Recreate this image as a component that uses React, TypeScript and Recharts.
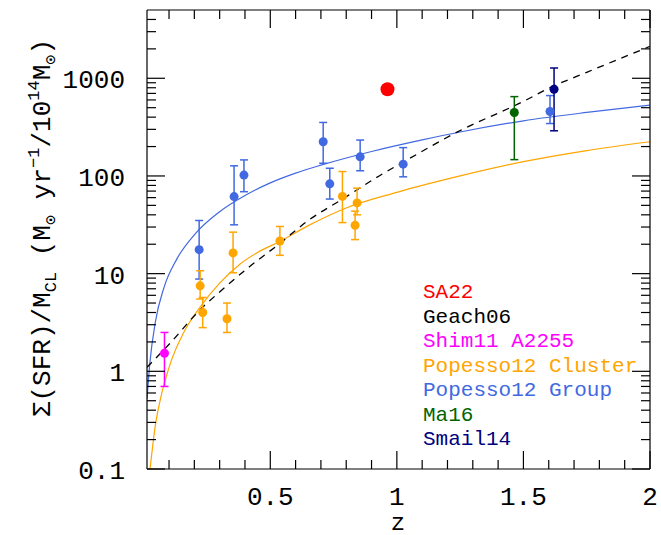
import React from 'react';
import { ComposedChart, XAxis, YAxis, Line, Scatter, ErrorBar } from 'recharts';

// fitted curves
const groupFitZ = [0.013, 0.024, 0.046, 0.08, 0.13, 0.2, 0.3, 0.4, 0.5, 0.6, 0.7, 0.9, 1.1, 1.25, 1.5, 1.75, 2.0];
const groupFitV = [0.52, 1.2, 3.2, 7.2, 14, 25, 43, 63, 85, 107, 129, 178, 234, 282, 367, 447, 530];

const clusterFitZ = [0.025, 0.046, 0.066, 0.105, 0.158, 0.224, 0.3, 0.38, 0.45, 0.54, 0.65, 0.8, 1.0, 1.25, 1.5, 1.75, 2.0];
const clusterFitV = [0.1, 0.28, 0.52, 1.2, 2.5, 4.6, 8.0, 12.5, 16.5, 21.5, 31, 47, 68, 100, 140, 182, 224];

const geachZ = [0.013, 0.105, 0.224, 0.3, 0.42, 0.54, 0.65, 0.79, 0.93, 1.05, 1.24, 1.5, 1.6, 1.75, 2.0];
const geachV = [1.1, 1.95, 4.3, 6.5, 11.9, 20.6, 35, 59, 100, 151, 283, 580, 790, 1150, 2120];

// measurements: z, value, lower, upper
const groupZ = [0.219, 0.357, 0.396, 0.709, 0.735, 0.855, 1.025, 1.605];
const groupV = [17.6, 61.5, 102, 224, 83, 157, 132, 457];
const groupLo = [8.8, 31.6, 69, 135, 58, 113, 98, 344];
const groupHi = [35, 127, 146, 353, 120, 233, 195, 665];

const clusterZ = [0.223, 0.233, 0.329, 0.353, 0.538, 0.785, 0.843, 0.835];
const clusterV = [7.5, 4.0, 3.45, 16.3, 21.6, 61.7, 53, 31.2];
const clusterLo = [5.5, 2.8, 2.5, 10.2, 15.4, 33.3, 40, 22.3];
const clusterHi = [10.7, 5.7, 5.0, 26.6, 30.4, 111, 75, 43.6];

const shimZ = [0.082];
const shimV = [1.53];
const shimLo = [0.7];
const shimHi = [2.5];

const ma16Z = [1.464];
const ma16V = [446];
const ma16Lo = [147];
const ma16Hi = [649];

const smailZ = [1.621];
const smailV = [773];
const smailLo = [290];
const smailHi = [1274];

const sa22Z = [0.963];
const sa22V = [773];

const xMajorTicks = [0.5, 1, 1.5, 2];
const xMajorLabels = ['0.5', '1', '1.5', '2'];
const xMinorTicks = [0.1, 0.2, 0.3, 0.4, 0.6, 0.7, 0.8, 0.9, 1.1, 1.2, 1.3, 1.4, 1.6, 1.7, 1.8, 1.9];
const yMajorTicks = [0.1, 1, 10, 100, 1000];
const yMajorLabels = ['0.1', '1', '10', '100', '1000'];
const yMinorTicks = [
  0.2, 0.3, 0.4, 0.5, 0.6, 0.7, 0.8, 0.9,
  2, 3, 4, 5, 6, 7, 8, 9,
  20, 30, 40, 50, 60, 70, 80, 90,
  200, 300, 400, 500, 600, 700, 800, 900,
  2000, 3000, 4000,
];

const legendNames = ['SA22', 'Geach06', 'Shim11 A2255', 'Popesso12 Cluster', 'Popesso12 Group', 'Ma16', 'Smail14'];
const legendColors = ['#ff0000', '#000000', '#ff00ff', '#ffa500', '#4169e1', '#006400', '#000080'];

const curve = (zs: number[], vs: number[]) => zs.map((z, i) => ({ z, v: vs[i] }));
const points = (zs: number[], vs: number[], lo: number[], hi: number[]) =>
  zs.map((z, i) => ({ z, v: vs[i], err: [vs[i] - lo[i], hi[i] - vs[i]] }));

const FONT = '"Liberation Mono", "DejaVu Sans Mono", monospace';

// chart layout
const W = 661;
const H = 535;
const LEFT_W = 147;
const BOTTOM_H = 66;
const TOP_H = 10;
const RIGHT_W = 11;
const PLOT_W = W - LEFT_W - RIGHT_W;
const PLOT_H = H - TOP_H - BOTTOM_H;

// inward ticks; the bottom/left renderers also draw the mirrored top/right ticks
const tickFor = (side: string, majors: number[], labels: string[]) => (props: any) => {
  const { x, y, payload } = props;
  const idx = majors.indexOf(payload.value);
  const len = idx >= 0 ? 18 : 9;
  if (side === 'bottom') {
    const top = y - PLOT_H;
    return (
      <g>
        <line x1={x} y1={y} x2={x} y2={y - len} stroke="#000" strokeWidth={1.2} />
        <line x1={x} y1={top} x2={x} y2={top + len} stroke="#000" strokeWidth={1.2} />
        {idx >= 0 && <text x={x} y={y + 36} textAnchor="middle" fontFamily={FONT} fontSize={26} fill="#000">{labels[idx]}</text>}
      </g>
    );
  }
  const right = x + PLOT_W;
  return (
    <g>
      <line x1={x} y1={y} x2={x + len} y2={y} stroke="#000" strokeWidth={1.2} />
      <line x1={right} y1={y} x2={right - len} y2={y} stroke="#000" strokeWidth={1.2} />
      {idx >= 0 && <text x={x - 22} y={y + 10} textAnchor="end" fontFamily={FONT} fontSize={26} fill="#000">{labels[idx]}</text>}
    </g>
  );
};

const dot = (color: string, r: number) => (p: any) => <circle cx={p.cx} cy={p.cy} r={r} fill={color} />;

const xTicks = [...xMinorTicks, ...xMajorTicks].sort((a, b) => a - b);
const yTicks = [...yMinorTicks, ...yMajorTicks].sort((a, b) => a - b);

const errSeries = (data: any[], color: string) => (
  <Scatter data={data} fill={color} isAnimationActive={false} shape={dot(color, 4.5)}>
    <ErrorBar dataKey="err" direction="y" width={4} stroke={color} strokeWidth={1.5} />
  </Scatter>
);

const axisLine = { stroke: '#000', strokeWidth: 1.2 };
const X_DOMAIN = [0.013, 2];
const Y_DOMAIN = [0.1, 5000];

export default function App() {
  return (
    <div style={{ position: 'absolute', left: 0, top: 0, width: W, height: H, background: '#fff' }}>
      <ComposedChart width={W} height={H} margin={{ top: 0, right: 0, bottom: 0, left: 0 }}>
        <XAxis dataKey="z" type="number" domain={X_DOMAIN} allowDataOverflow ticks={xTicks} interval={0}
          height={BOTTOM_H} tickSize={0} tickMargin={0} tickLine={false} axisLine={axisLine}
          tick={tickFor('bottom', xMajorTicks, xMajorLabels)} />
        <YAxis dataKey="v" scale="log" type="number" domain={Y_DOMAIN} allowDataOverflow ticks={yTicks} interval={0}
          width={LEFT_W} tickSize={0} tickMargin={0} tickLine={false} axisLine={axisLine}
          tick={tickFor('left', yMajorTicks, yMajorLabels)} />
        {/* top and right frame lines */}
        <XAxis xAxisId="top" orientation="top" dataKey="z" type="number" domain={X_DOMAIN} allowDataOverflow
          height={TOP_H} tick={false} tickLine={false} axisLine={axisLine} />
        <YAxis yAxisId="right" orientation="right" dataKey="v" scale="log" type="number" domain={Y_DOMAIN} allowDataOverflow
          width={RIGHT_W} tick={false} tickLine={false} axisLine={axisLine} />
        <Line xAxisId="top" yAxisId="right" data={curve(geachZ, geachV)} dataKey="v" stroke="none" dot={false} isAnimationActive={false} />

        <Line data={curve(groupFitZ, groupFitV)} dataKey="v" type="monotone" stroke="#4169e1" strokeWidth={1.2} dot={false} isAnimationActive={false} />
        <Line data={curve(clusterFitZ, clusterFitV)} dataKey="v" type="monotone" stroke="#ffa500" strokeWidth={1.2} dot={false} isAnimationActive={false} />
        <Line data={curve(geachZ, geachV)} dataKey="v" type="monotone" stroke="#000" strokeWidth={1.3} strokeDasharray="7 6" dot={false} isAnimationActive={false} />

        {errSeries(points(groupZ, groupV, groupLo, groupHi), '#4169e1')}
        {errSeries(points(clusterZ, clusterV, clusterLo, clusterHi), '#ffa500')}
        {errSeries(points(shimZ, shimV, shimLo, shimHi), '#ff00ff')}
        {errSeries(points(ma16Z, ma16V, ma16Lo, ma16Hi), '#006400')}
        {errSeries(points(smailZ, smailV, smailLo, smailHi), '#000080')}
        <Scatter data={curve(sa22Z, sa22V)} fill="#ff0000" isAnimationActive={false} shape={dot('#ff0000', 7)} />
      </ComposedChart>

      <svg width={W} height={H} style={{ position: 'absolute', left: 0, top: 0, pointerEvents: 'none' }}>
        {legendNames.map((name, i) => (
          <text key={name} x={423} y={298 + i * 24.5} fontFamily={FONT} fontSize={21} fill={legendColors[i]}>{name}</text>
        ))}
        <text x={398} y={530} textAnchor="middle" fontFamily={FONT} fontSize={24} fill="#000">z</text>
        <text transform="rotate(-90)" x={-228} y={50} textAnchor="middle" fontFamily={FONT} fontSize={26} fill="#000">
          Σ(SFR)/M<tspan fontSize={17} dy={6}>CL</tspan>
          <tspan dy={-6}>{'  (M'}</tspan><tspan fontSize={17} dy={6}>⊙</tspan>
          <tspan dy={-6}> yr</tspan><tspan fontSize={17} dy={-11}>−1</tspan>
          <tspan dy={11}>/10</tspan><tspan fontSize={17} dy={-11}>14</tspan>
          <tspan dy={11}>M</tspan><tspan fontSize={17} dy={6}>⊙</tspan>
          <tspan dy={-6}>)</tspan>
        </text>
      </svg>
    </div>
  );
}
